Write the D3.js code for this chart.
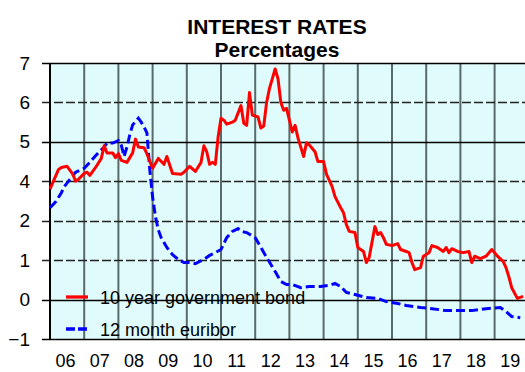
<!DOCTYPE html>
<html>
<head>
<meta charset="utf-8">
<script src="https://cdn.jsdelivr.net/npm/d3@7"></script>
<style>
  html, body { margin: 0; padding: 0; background: #fff; }
  svg { display: block; font-family: "Liberation Sans", Arial, sans-serif; }
</style>
</head>
<body>
<svg id="chart" width="525" height="372"></svg>
<script>
// Month offsets counted from January 2006, with the rate read for that month.
const bondMonths = [0,3,4,6,8,9,10,12,13,14,16,18,19,20,22,23,24,25,27,29,30,31,33,34,36,38,40,41,43,46,47,49,51,53,54,55,56,57,58,59,60,61,62,64,65,67,68,69,70,71,73,74,75,76,77,79,80,81,82,83,84,85,86,87,89,90,91,93,94,96,97,99,100,102,103,104,105,107,108,110,111,112,114,115,116,117,118,120,122,123,125,126,127,128,130,131,133,134,136,138,139,140,141,143,145,147,148,149,151,153,155,156,157,159,160,161,162,164,166];
const bondRates  = [3.6,4.3,4.35,4.38,4.18,4.0,4.05,4.2,4.23,4.15,4.35,4.58,4.9,4.72,4.72,4.6,4.7,4.53,4.48,4.72,5.07,4.87,4.85,4.7,4.33,4.58,4.43,4.63,4.2,4.18,4.23,4.38,4.25,4.48,4.9,4.75,4.43,4.48,4.43,5.13,5.6,5.55,5.45,5.5,5.55,5.92,5.47,5.42,6.25,5.68,5.63,5.35,5.4,6.0,6.35,6.85,6.6,6.0,5.8,5.85,5.55,5.25,5.42,5.1,4.63,4.98,4.92,4.75,4.5,4.5,4.18,3.73,3.22,2.66,2.4,1.9,1.73,1.7,1.32,1.22,0.94,1.07,1.85,1.65,1.7,1.57,1.4,1.37,1.42,1.27,1.22,1.19,0.94,0.76,0.81,1.1,1.19,1.37,1.32,1.22,1.32,1.19,1.29,1.22,1.19,1.22,0.94,1.1,1.04,1.1,1.27,1.19,1.1,0.97,0.81,0.58,0.3,0.03,0.08];

const euriborMonths = [0,2,4,5,7,9,12,14,16,19,20,22,24,25,26,27,28,29,31,32,33,34,35,36,37,38,39,40,41,43,45,47,49,51,54,56,58,60,62,64,66,67,69,72,74,76,79,81,83,85,88,91,95,98,100,102,104,107,111,115,118,122,125,130,134,139,144,148,153,158,160,162,165];
const euriborRates  = [2.66,2.96,3.42,3.73,4.05,4.23,4.33,4.48,4.65,4.87,4.97,4.97,5.03,4.92,4.63,4.87,5.18,5.43,5.6,5.5,5.38,5.23,4.3,3.2,2.2,1.77,1.57,1.45,1.32,1.14,1.02,0.94,0.94,0.91,1.02,1.12,1.19,1.27,1.57,1.73,1.8,1.73,1.7,1.57,1.32,1.07,0.71,0.46,0.38,0.38,0.3,0.33,0.33,0.36,0.41,0.33,0.18,0.13,0.05,0.03,-0.05,-0.1,-0.15,-0.2,-0.23,-0.28,-0.28,-0.28,-0.23,-0.2,-0.3,-0.43,-0.46];

// Axis values: the vertical scale skips 3, so 2 and 4 share one step.
const yTickValues = [-1, 0, 1, 2, 4, 5, 6, 7];
const years = [2006,2007,2008,2009,2010,2011,2012,2013,2014,2015,2016,2017,2018,2019];

const titleLines = ["INTEREST RATES", "Percentages"];
const seriesNames = ["10 year government bond", "12 month euribor"];

const svg = d3.select("#chart");
const plot = { left: 50, top: 63, bottom: 339, yearWidth: 34.2 };
plot.right = plot.left + years.length * plot.yearWidth;

const x = d3.scaleLinear()
  .domain([years[0], years[years.length - 1] + 1])
  .range([plot.left, plot.right]);

const step = (plot.bottom - plot.top) / (yTickValues.length - 1);
const y = d3.scaleLinear()
  .domain(yTickValues)
  .range(yTickValues.map((d, i) => plot.bottom - i * step));

// Plot background
svg.append("rect")
  .attr("x", plot.left).attr("y", plot.top)
  .attr("width", plot.right - plot.left).attr("height", plot.bottom - plot.top)
  .attr("fill", "#e0fbfb");

// Vertical year separators
svg.append("g").selectAll("line")
  .data(years.slice(1).concat([years[years.length - 1] + 1]))
  .join("line")
  .attr("x1", d => x(d)).attr("x2", d => x(d))
  .attr("y1", plot.top).attr("y2", plot.bottom)
  .attr("stroke", "#5a6a6a").attr("stroke-width", 2);

// Horizontal grid and y ticks
const dashed = new Set([6, 4, 2, 1]);
svg.append("g").selectAll("line")
  .data(yTickValues)
  .join("line")
  .attr("x1", plot.left - 8).attr("x2", plot.right)
  .attr("y1", d => Math.round(y(d)) + 0.5).attr("y2", d => Math.round(y(d)) + 0.5)
  .attr("stroke", d => dashed.has(d) ? "#222" : "#000")
  .attr("stroke-width", d => dashed.has(d) ? 1.6 : 1.4)
  .attr("stroke-dasharray", d => dashed.has(d) ? "9,3" : null);

// Left axis line
svg.append("line")
  .attr("x1", plot.left).attr("x2", plot.left)
  .attr("y1", plot.top).attr("y2", plot.bottom + 1)
  .attr("stroke", "#000").attr("stroke-width", 2);

// Y labels
const yAxis = d3.axisLeft(y).tickValues(yTickValues).tickFormat(d3.format("d")).tickSize(0).tickPadding(0);
const yg = svg.append("g").attr("transform", `translate(${plot.left - 20},0)`).call(yAxis);
yg.select(".domain").remove();
yg.selectAll("text").attr("font-size", 19).attr("fill", "#000")
  .attr("font-family", "'Liberation Sans', Arial, sans-serif");

// X labels, centred on each year
const xAxis = d3.axisBottom(x).tickValues(years.map(d => d + 0.5))
  .tickFormat(d => d3.format("02d")(Math.floor(d) % 100)).tickSize(0).tickPadding(0);
const xg = svg.append("g").attr("transform", `translate(-2,${plot.bottom + 15})`).call(xAxis);
xg.select(".domain").remove();
xg.selectAll("text").attr("font-size", 18).attr("fill", "#000")
  .attr("font-family", "'Liberation Sans', Arial, sans-serif");

// Series lines
const line = d3.line().x(d => x(years[0] + d[0] / 12)).y(d => y(d[1]));
const bond = bondMonths.map((m, i) => [m, bondRates[i]]);
const euribor = euriborMonths.map((m, i) => [m, euriborRates[i]]);

svg.append("path").datum(euribor)
  .attr("d", line).attr("fill", "none")
  .attr("stroke", "#0000ff").attr("stroke-width", 3)
  .attr("stroke-dasharray", "9,4");

svg.append("path").datum(bond)
  .attr("d", line).attr("fill", "none")
  .attr("stroke", "#ff0000").attr("stroke-width", 3)
  .attr("stroke-linejoin", "round");

// Legend
const legend = svg.append("g");
const legendRows = [
  { name: seriesNames[0], color: "#ff0000", dash: null, y: 297 },
  { name: seriesNames[1], color: "#0000ff", dash: "9,3", y: 329 }
];
legendRows.forEach(r => {
  legend.append("line")
    .attr("x1", 66).attr("x2", 88).attr("y1", r.y).attr("y2", r.y)
    .attr("stroke", r.color).attr("stroke-width", 3.3)
    .attr("stroke-dasharray", r.dash);
  legend.append("text")
    .attr("x", 100).attr("y", r.y + 7)
    .attr("font-size", 18).attr("fill", "#000")
    .text(r.name);
});

// Title
svg.append("text").attr("x", 277).attr("y", 34)
  .attr("text-anchor", "middle").attr("font-size", 21).attr("font-weight", "bold")
  .text(titleLines[0]);
svg.append("text").attr("x", 277).attr("y", 57)
  .attr("text-anchor", "middle").attr("font-size", 21).attr("font-weight", "bold")
  .text(titleLines[1]);
</script>
</body>
</html>
